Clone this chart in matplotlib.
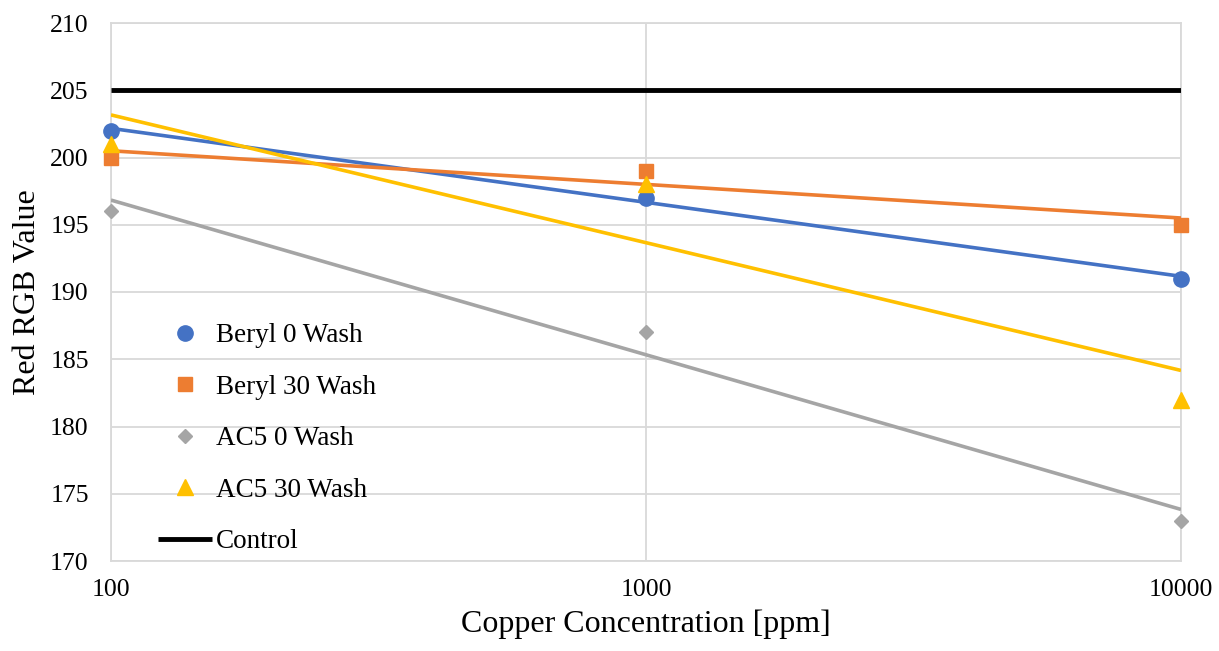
import numpy as np
import matplotlib
matplotlib.use("Agg")
import matplotlib.pyplot as plt

plt.rcParams['font.family'] = ['Liberation Serif', 'DejaVu Serif']

# data
conc = [100, 1000, 10000]
beryl_0 = [202, 197, 191]
beryl_30 = [200, 199, 195]
ac5_0 = [196, 187, 173]
ac5_30 = [201, 198, 182]
control = 205

series = [
    ("Beryl 0 Wash", beryl_0, "#4472c4", "o", 11),
    ("Beryl 30 Wash", beryl_30, "#ed7d31", "s", 10),
    ("AC5 0 Wash", ac5_0, "#a5a5a5", "D", 7.5),
    ("AC5 30 Wash", ac5_30, "#ffc000", "^", 11),
]

fig = plt.figure(figsize=(12.19, 6.51), dpi=100)
ax = fig.add_axes([111 / 1219, 1 - 561 / 651, (1181 - 111) / 1219, (561 - 23) / 651])

ax.set_xscale('log')
ax.set_xlim(100, 10000)
ax.set_ylim(170, 210)

xs = np.log10(conc)
for name, vals, col, mk, ms in series:
    # logarithmic trendline, like Excel's
    k, b = np.polyfit(xs, vals, 1)
    ax.plot(conc, k * xs + b, color=col, lw=2.6, zorder=3, solid_capstyle='butt')
for name, vals, col, mk, ms in series:
    ax.plot(conc, vals, linestyle='none', marker=mk, color=col, ms=ms,
            label=name, zorder=4, clip_on=False)

ax.plot([conc[0], conc[-1]], [control, control], color='black', lw=3.5,
        label='Control', zorder=3, solid_capstyle='butt')

ax.set_yticks(range(170, 211, 5))
ax.set_xticks(conc)
ax.set_xticklabels([str(c) for c in conc])
ax.minorticks_off()
ax.tick_params(axis='both', length=0, labelsize=18.5, colors='black')
ax.tick_params(axis='x', pad=13)
ax.tick_params(axis='y', pad=16)
ax.grid(True, color='#d9d9d9', lw=1.3, zorder=0)
for s in ax.spines.values():
    s.set_color('#d9d9d9')
    s.set_linewidth(1.3)
ax.set_axisbelow(True)

ax.set_xlabel('Copper Concentration [ppm]', fontsize=23, labelpad=6)
ax.set_ylabel('Red RGB Value', fontsize=23, labelpad=6)

ax.legend(loc='lower left', bbox_to_anchor=(0.021, -0.033), frameon=False,
          fontsize=19.5, labelspacing=0.98, handlelength=2.0, handletextpad=0.15,
          markerscale=1.0)

fig.savefig('out.png', dpi=100)
